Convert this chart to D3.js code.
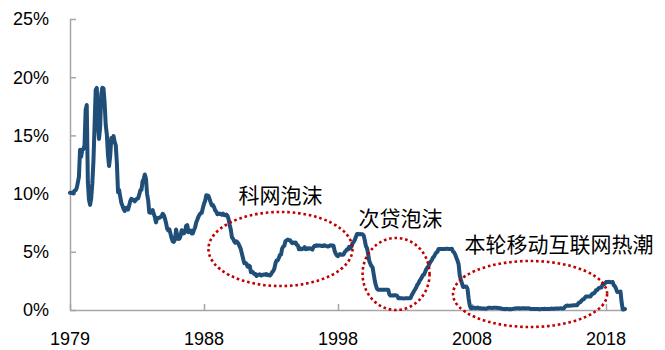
<!DOCTYPE html>
<html><head><meta charset="utf-8">
<script src="https://cdn.jsdelivr.net/npm/d3@7"></script>
<style>html,body{margin:0;padding:0;background:#fff;}svg{display:block;}</style>
</head><body>
<svg id="chart" width="665" height="350"></svg>
<script>
// Monthly effective federal funds rate (%), starting Jan 1979
const startYear = 1979;
const rates = [
// 1979
10.07,10.06,10.09,10.01,10.24,10.29,10.47,10.94,11.43,13.77,13.18,13.78,
// 1980
13.82,14.13,17.19,17.61,10.98,9.47,9.03,9.61,10.87,12.81,15.85,18.90,
// 1981
19.08,15.93,14.70,15.72,18.52,19.10,19.04,17.82,15.87,15.08,13.31,12.37,
// 1982
13.22,14.78,14.68,14.94,14.45,14.15,12.59,10.12,10.31,9.71,9.20,8.95,
// 1983
8.68,8.51,8.77,8.80,8.63,8.98,9.37,9.56,9.45,9.48,9.34,9.47,
// 1984
9.56,9.59,9.91,10.29,10.32,11.06,11.23,11.64,11.30,9.99,9.43,8.38,
// 1985
8.35,8.50,8.58,8.27,7.97,7.53,7.88,7.90,7.92,7.99,8.05,8.27,
// 1986
8.14,7.86,7.48,6.99,6.85,6.92,6.56,6.17,5.89,5.85,6.04,6.91,
// 1987
6.43,6.10,6.13,6.37,6.85,6.73,6.58,6.73,7.22,7.29,6.69,6.77,
// 1988
6.83,6.58,6.58,6.87,7.09,7.51,7.75,8.01,8.19,8.30,8.35,8.76,
// 1989
9.12,9.36,9.85,9.84,9.81,9.53,9.24,8.99,9.02,8.84,8.55,8.45,
// 1990
8.23,8.24,8.28,8.26,8.18,8.29,8.15,8.13,8.20,8.11,7.81,7.31,
// 1991
6.91,6.25,6.12,5.91,5.78,5.90,5.82,5.66,5.45,5.21,4.81,4.43,
// 1992
4.03,4.06,3.98,3.73,3.82,3.76,3.25,3.30,3.22,3.10,3.09,2.92,
// 1993
3.02,3.03,3.07,2.96,3.00,3.04,3.06,3.03,3.09,2.99,3.02,2.96,
// 1994
3.05,3.25,3.34,3.56,4.01,4.25,4.26,4.47,4.73,4.76,5.29,5.45,
// 1995
5.53,5.92,5.98,6.05,6.01,6.00,5.85,5.74,5.80,5.76,5.80,5.60,
// 1996
5.56,5.22,5.31,5.22,5.24,5.27,5.40,5.22,5.30,5.24,5.31,5.29,
// 1997
5.25,5.19,5.39,5.51,5.50,5.56,5.52,5.54,5.54,5.50,5.52,5.50,
// 1998
5.56,5.51,5.49,5.45,5.49,5.56,5.54,5.55,5.51,5.07,4.83,4.68,
// 1999
4.63,4.76,4.81,4.74,4.74,4.76,4.99,5.07,5.22,5.20,5.42,5.30,
// 2000
5.45,5.73,5.85,6.02,6.27,6.53,6.54,6.50,6.52,6.51,6.51,6.40,
// 2001
5.98,5.49,5.31,4.80,4.21,3.97,3.77,3.65,3.07,2.49,2.09,1.82,
// 2002
1.73,1.74,1.73,1.75,1.75,1.75,1.73,1.74,1.75,1.75,1.34,1.24,
// 2003
1.24,1.26,1.25,1.26,1.26,1.22,1.01,1.03,1.01,1.01,1.00,0.98,
// 2004
1.00,1.01,1.00,1.00,1.00,1.03,1.26,1.43,1.61,1.76,1.93,2.16,
// 2005
2.28,2.50,2.63,2.79,3.00,3.04,3.26,3.50,3.62,3.78,4.00,4.16,
// 2006
4.29,4.49,4.59,4.79,4.94,4.99,5.24,5.25,5.25,5.25,5.25,5.24,
// 2007
5.25,5.26,5.26,5.25,5.25,5.25,5.26,5.02,4.94,4.76,4.49,4.24,
// 2008
3.94,2.98,2.61,2.28,1.98,2.00,2.01,2.00,1.81,0.97,0.39,0.16,
// 2009
0.15,0.22,0.18,0.15,0.18,0.21,0.16,0.16,0.15,0.12,0.12,0.12,
// 2010
0.11,0.13,0.16,0.20,0.20,0.18,0.18,0.19,0.19,0.19,0.19,0.18,
// 2011
0.17,0.16,0.14,0.10,0.09,0.09,0.07,0.10,0.08,0.07,0.08,0.07,
// 2012
0.08,0.10,0.13,0.14,0.16,0.16,0.16,0.13,0.14,0.16,0.16,0.16,
// 2013
0.14,0.15,0.14,0.15,0.11,0.09,0.09,0.08,0.08,0.09,0.08,0.09,
// 2014
0.07,0.07,0.08,0.09,0.09,0.10,0.09,0.09,0.09,0.09,0.09,0.12,
// 2015
0.11,0.11,0.11,0.12,0.12,0.13,0.13,0.14,0.14,0.12,0.12,0.24,
// 2016
0.34,0.38,0.36,0.37,0.37,0.38,0.39,0.40,0.40,0.40,0.41,0.54,
// 2017
0.65,0.66,0.79,0.90,0.91,1.04,1.15,1.16,1.15,1.15,1.16,1.30,
// 2018
1.41,1.42,1.51,1.69,1.70,1.82,1.91,1.91,1.95,2.19,2.20,2.27,
// 2019
2.40,2.40,2.41,2.42,2.39,2.38,2.40,2.13,2.04,1.83,1.55,1.55,
// 2020
1.55,1.58,0.65,0.05,0.05,0.08
];
// x-axis tick positions (month index) and labels
const tickIndex = [0, 120, 240, 360, 480];
const tickLabels = ["1979", "1988", "1998", "2008", "2018"];
const yTicks = [0, 5, 10, 15, 20, 25];

// annotations: label + ellipse extent in data units (month index, %)
const annotations = [
  {label: "科网泡沫", tx: 188.5, ty: 9.8, x0: 124, x1: 253, y0: 2.06, y1: 8.42},
  {label: "次贷泡沫", tx: 296, ty: 7.9, x0: 262, x1: 322, y0: 0.0, y1: 6.19},
  {label: "本轮移动互联网热潮", tx: 438, ty: 5.67, x0: 343, x1: 481, y0: -1.46, y1: 4.21}
];

const svg = d3.select("#chart");
const mLeft = 70, mTop = 19, mBottom = 310;
const pxPerMonth = 134 / 120;
const x = d3.scaleLinear().domain([0, rates.length - 1]).range([mLeft, mLeft + pxPerMonth * (rates.length - 1)]);
const y = d3.scaleLinear().domain([0, 25]).range([mBottom, mTop]);

const axisColor = "#a6a6a6";
const tickFont = "'Liberation Sans', Arial, sans-serif";

// y axis
const yAxis = svg.append("g").attr("transform", `translate(${mLeft},0)`)
  .call(d3.axisRight(y).tickValues(yTicks).tickSize(6).tickFormat(""));
yAxis.select(".domain").attr("stroke", axisColor).attr("stroke-width", 1.5).attr("d", `M0.5,${mTop}V${mBottom}`);
yAxis.selectAll(".tick line").attr("stroke", axisColor).attr("stroke-width", 1.5);
svg.append("g").selectAll("text").data(yTicks).join("text")
  .attr("x", 49).attr("y", d => y(d)).attr("dy", "0.36em")
  .attr("text-anchor", "end").attr("font-family", tickFont).attr("font-size", 18).attr("fill", "#000")
  .text(d => d + "%");

// x axis
const xAxis = svg.append("g").attr("transform", `translate(0,${mBottom})`)
  .call(d3.axisTop(x).tickValues(tickIndex).tickSize(6).tickFormat(""));
xAxis.select(".domain").attr("stroke", axisColor).attr("stroke-width", 1.5).attr("d", `M${mLeft},0.5H${x.range()[1]}`);
xAxis.selectAll(".tick line").attr("stroke", axisColor).attr("stroke-width", 1.5);
svg.append("g").selectAll("text").data(tickIndex).join("text")
  .attr("x", d => x(d)).attr("y", 339).attr("dy", "0.36em")
  .attr("text-anchor", "middle").attr("font-family", tickFont).attr("font-size", 18).attr("fill", "#000")
  .text((d, i) => tickLabels[i]);

// line
const line = d3.line().x((d, i) => x(i)).y(d => y(d)).curve(d3.curveLinear);
svg.append("path").datum(rates)
  .attr("d", line).attr("fill", "none").attr("stroke", "#1f4e79")
  .attr("stroke-width", 4).attr("stroke-linejoin", "round").attr("stroke-linecap", "round");

// annotations
const ann = svg.append("g");
ann.selectAll("ellipse").data(annotations).join("ellipse")
  .attr("cx", d => (x(d.x0) + x(d.x1)) / 2)
  .attr("cy", d => (y(d.y0) + y(d.y1)) / 2)
  .attr("rx", d => (x(d.x1) - x(d.x0)) / 2)
  .attr("ry", d => (y(d.y0) - y(d.y1)) / 2)
  .attr("fill", "none").attr("stroke", "#c00000").attr("stroke-width", 2.6)
  .attr("stroke-dasharray", "2.6,2.8");
ann.selectAll("text").data(annotations).join("text")
  .attr("x", d => x(d.tx)).attr("y", d => y(d.ty)).attr("dy", "0.36em")
  .attr("text-anchor", "middle")
  .attr("font-family", "'Noto Sans CJK SC', sans-serif").attr("font-size", 21).attr("fill", "#000")
  .text(d => d.label);
</script>
</body></html>
